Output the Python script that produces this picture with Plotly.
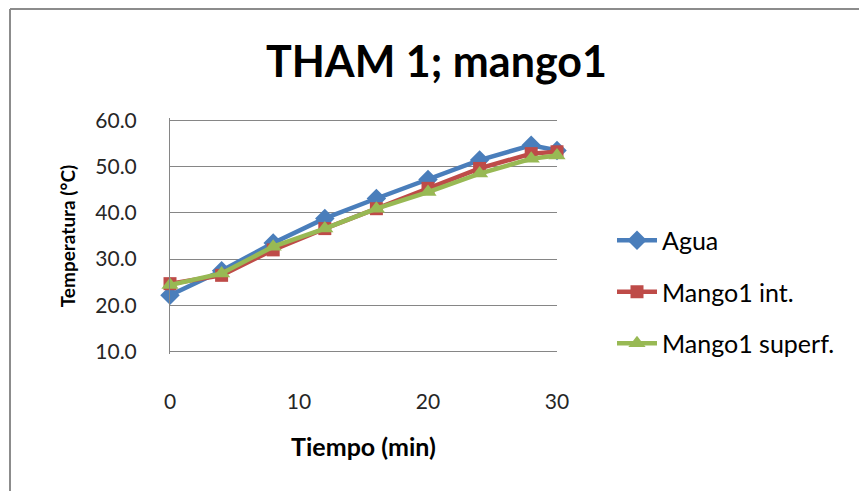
import plotly.graph_objects as go

tiempo = [0, 4, 8, 12, 16, 20, 24, 28, 30]
agua = [22.2, 27.5, 33.5, 38.8, 43.1, 47.2, 51.4, 54.6, 53.5]
mango_int = [24.7, 26.5, 32.0, 36.6, 40.9, 45.3, 49.6, 52.8, 53.2]
mango_sup = [24.4, 26.9, 32.7, 36.6, 40.9, 44.5, 48.5, 51.7, 52.4]

series = [
    ("Agua", agua, "#4A7EBB", "diamond", 15),
    ("Mango1 int.", mango_int, "#BE4B48", "square", 13),
    ("Mango1 superf.", mango_sup, "#98B954", "triangle-up", 15),
]

FONT = "Lato, 'Open Sans', sans-serif"
fig = go.Figure()
for name, vals, col, sym, sz in series:
    fig.add_trace(go.Scatter(
        x=tiempo, y=vals, name=name, mode="lines+markers",
        line=dict(color=col, width=4.5),
        marker=dict(symbol=sym, size=sz, color=col),
        cliponaxis=False, legendgroup=name,
    ))

W, H = 859, 491
L, R, T, B = 170, 302, 118, 137
PH = H - T - B
fig.update_layout(
    width=W, height=H,
    margin=dict(l=L, r=R, t=T, b=B),
    paper_bgcolor="white", plot_bgcolor="white",
    font=dict(family=FONT, color="#404040", size=18),
    title=dict(text="<b>THAM 1; mango1</b>", x=0.508, xanchor="center",
               y=1 - 62 / H, yanchor="middle",
               font=dict(size=43, color="black", family=FONT)),
    legend=dict(x=1.0 + 55 / (W - L - R), y=1 - (292 - T) / PH,
                xanchor="left", yanchor="middle",
                font=dict(size=25, color="black"), tracegroupgap=16,
                itemwidth=40, bgcolor="rgba(0,0,0,0)"),
    showlegend=True,
)
fig.update_xaxes(range=[0, 30], tickvals=[0, 10, 20, 30], showgrid=False,
                 zeroline=False, showline=False, ticks="",
                 ticklabelstandoff=33, tickfont=dict(size=21, color="#262626"),
                 title=dict(text="<b>Tiempo (min)</b>", standoff=26,
                            font=dict(size=25, color="black")))
fig.update_yaxes(range=[9.5, 60.5], tickvals=[10, 20, 30, 40, 50, 60],
                 tickformat=".1f", showgrid=True, gridcolor="#868686", gridwidth=1,
                 zeroline=False, showline=True, linecolor="#868686", linewidth=1,
                 ticks="", ticklabelstandoff=28,
                 tickfont=dict(size=21, color="#262626"),
                 title=dict(text="<b>Temperatura (°C)</b>", standoff=14,
                            font=dict(size=19, color="black")))
# outer chart frame (left and top edges visible)
fig.add_shape(type="line", xref="paper", yref="paper",
              x0=(10 - L) / (W - L - R), x1=(10 - L) / (W - L - R),
              y0=(H - B - H) / PH, y1=(H - B - 9) / PH,
              line=dict(color="#8c8c8c", width=2))
fig.add_shape(type="line", xref="paper", yref="paper",
              x0=(10 - L) / (W - L - R), x1=(W - L) / (W - L - R),
              y0=(H - B - 9) / PH, y1=(H - B - 9) / PH,
              line=dict(color="#8c8c8c", width=2))
fig.write_html("out.html")
